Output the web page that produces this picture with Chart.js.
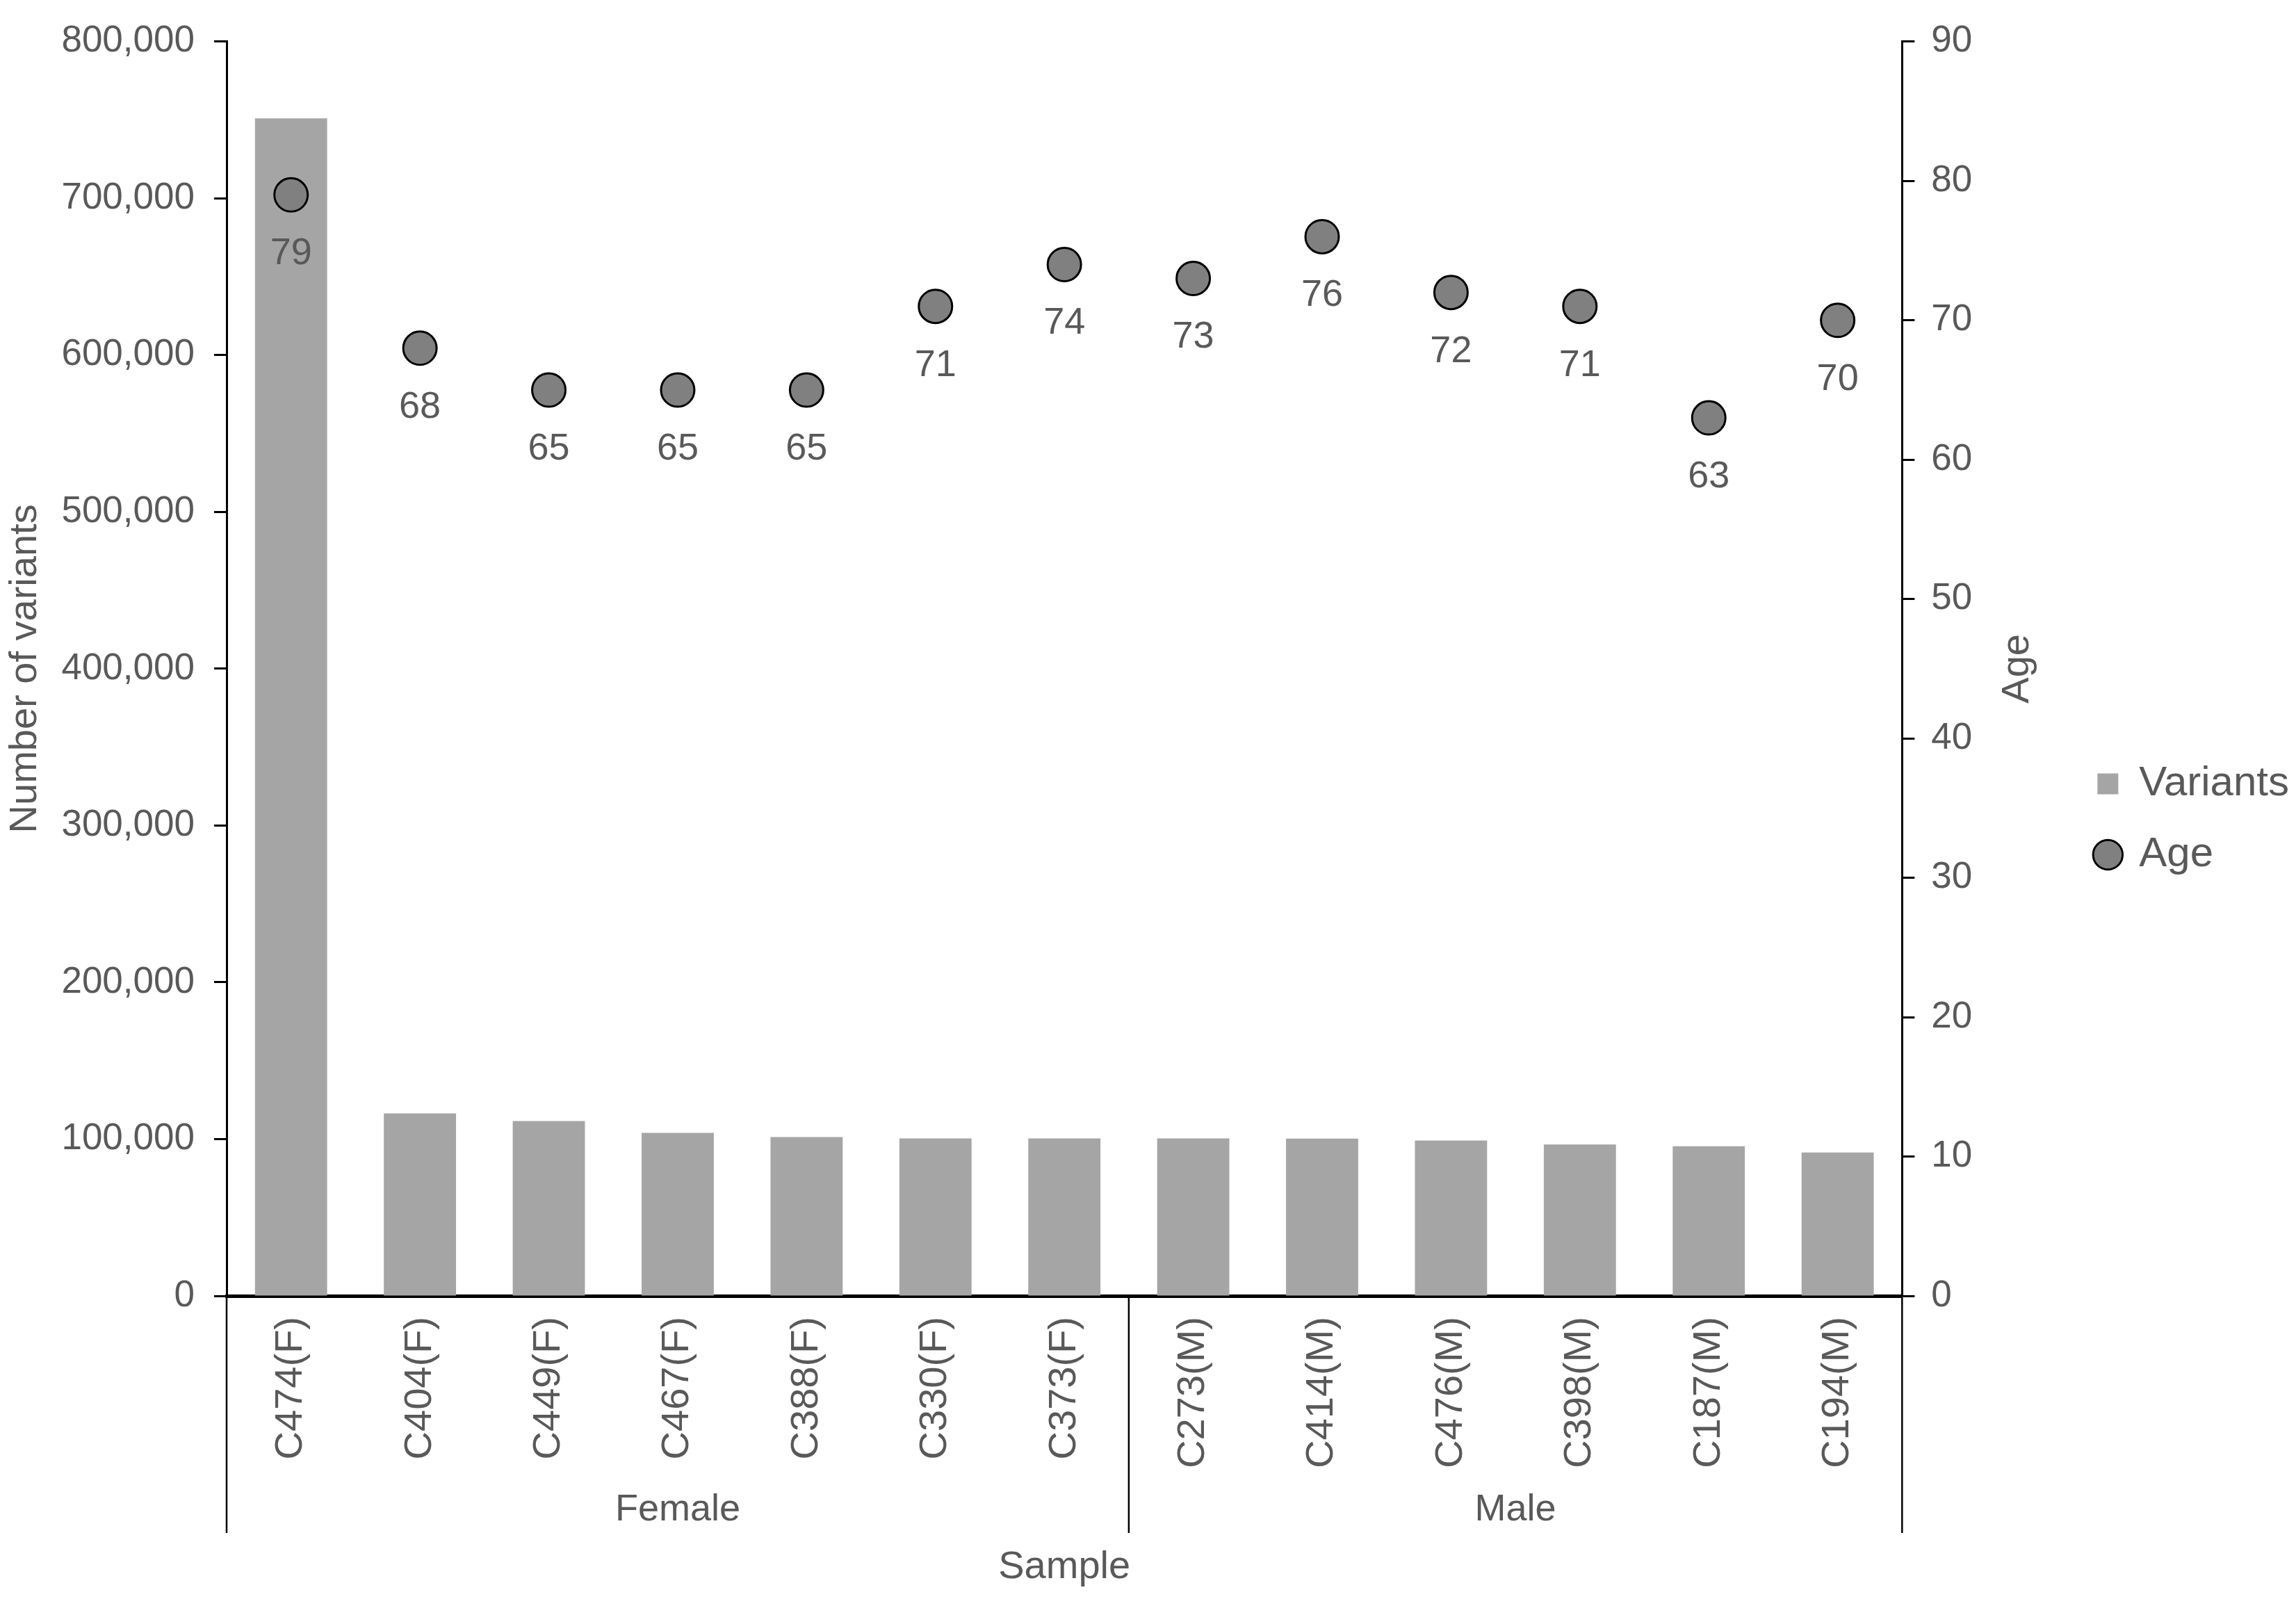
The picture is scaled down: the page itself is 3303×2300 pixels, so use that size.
<!DOCTYPE html>
<html>
<head>
<meta charset="utf-8">
<script src="https://cdn.jsdelivr.net/npm/chart.js@4.4.1/dist/chart.umd.min.js"></script>
<style>
  html, body { margin: 0; padding: 0; background: #fff; }
  canvas { display: block; }
</style>
</head>
<body>
<canvas id="variantsChart" width="3303" height="2300"></canvas>
<script>
// values
const samples = ['C474(F)', 'C404(F)', 'C449(F)', 'C467(F)', 'C388(F)', 'C330(F)', 'C373(F)',
                 'C273(M)', 'C414(M)', 'C476(M)', 'C398(M)', 'C187(M)', 'C194(M)'];
const variants = [751000, 116400, 111500, 104000, 101300, 100400, 100400, 100400, 100300, 99100, 96500, 95400, 91400];
const ages = [79, 68, 65, 65, 65, 71, 74, 73, 76, 72, 71, 63, 70];
const groups = ['Female', 'Male'];
const groupSizes = [7, 6];
const variantTicks = [0, 800000, 100000];   // min, max, step
const ageTicks = [0, 90, 10];

const FONT = '"Liberation Sans", Arial, sans-serif';
const TEXT = '#595959';
Chart.defaults.font.family = FONT;
Chart.defaults.color = TEXT;

// point labels under each age marker
const ageLabels = {
  id: 'ageLabels',
  afterDatasetsDraw(chart) {
    const ctx = chart.ctx;
    const meta = chart.getDatasetMeta(1);
    ctx.save();
    ctx.font = '54px ' + FONT;
    ctx.fillStyle = TEXT;
    ctx.textAlign = 'center';
    ctx.textBaseline = 'middle';
    meta.data.forEach((pt, i) => ctx.fillText(ages[i], pt.x, pt.y + 85));
    ctx.restore();
  }
};

// Female / Male group brackets under the x axis + rotated right title
const groupAxis = {
  id: 'groupAxis',
  afterDraw(chart) {
    const {ctx, scales: {x, y1}} = chart;
    const half = (x.getPixelForValue(1) - x.getPixelForValue(0)) / 2;
    const top = x.top;
    const lineBottom = x.bottom - 95;
    ctx.save();
    ctx.strokeStyle = '#000';
    ctx.lineWidth = 2.5;
    ctx.font = '54px ' + FONT;
    ctx.fillStyle = TEXT;
    ctx.textAlign = 'center';
    ctx.textBaseline = 'middle';
    let start = 0;
    let left = x.getPixelForValue(0) - half;
    ctx.beginPath(); ctx.moveTo(left, top); ctx.lineTo(left, lineBottom); ctx.stroke();
    groups.forEach((g, k) => {
      const end = start + groupSizes[k];
      const right = x.getPixelForValue(end - 1) + half;
      ctx.beginPath(); ctx.moveTo(right, top); ctx.lineTo(right, lineBottom); ctx.stroke();
      ctx.fillText(g, (left + right) / 2, x.bottom - 128);
      left = right;
      start = end;
    });

    // right axis title reads bottom-to-top
    ctx.font = '56px ' + FONT;
    ctx.translate(y1.left + 166, (y1.top + y1.bottom) / 2);
    ctx.rotate(-Math.PI / 2);
    ctx.fillText('Age', 0, 0);
    ctx.restore();
  }
};

const data = {
  labels: samples,
  datasets: [{
    type: 'bar',
    label: 'Variants',
    data: variants,
    yAxisID: 'y',
    backgroundColor: '#a5a5a5',
    borderWidth: 0,
    barPercentage: 0.56,
    categoryPercentage: 1,
    pointStyle: 'rect'
  }, {
    type: 'line',
    label: 'Age',
    data: ages,
    yAxisID: 'y1',
    showLine: false,
    order: -1,
    pointStyle: 'circle',
    pointRadius: 24,
    pointBorderWidth: 3,
    pointBackgroundColor: '#808080',
    pointBorderColor: '#000',
    backgroundColor: '#808080',
    borderColor: '#000',
    borderWidth: 3
  }]
};

const options = {
  responsive: false,
  animation: false,
  devicePixelRatio: 1,
  layout: { padding: { top: 57, left: 0, right: 0, bottom: 0 } },
  plugins: {
    tooltip: { enabled: false },
    legend: {
      position: 'right',
      labels: {
        usePointStyle: true,
        boxWidth: 30,
        boxHeight: 30,
        padding: 42,
        color: TEXT,
        font: { size: 60 },
        sort: (a, b) => a.datasetIndex - b.datasetIndex
      }
    }
  },
  scales: {
    x: {
      grid: { display: false, drawTicks: false },
      border: { display: true, color: '#000', width: 5 },
      ticks: { minRotation: 90, maxRotation: 90, autoSkip: false, padding: 30, font: { size: 56 }, color: TEXT },
      title: { display: true, text: 'Sample', font: { size: 56 }, color: TEXT, padding: { top: 0, bottom: 12 } },
      afterFit: s => { s.height = 436; }
    },
    y: {
      position: 'left',
      min: variantTicks[0],
      max: variantTicks[1],
      grid: { drawOnChartArea: false, drawTicks: true, tickLength: 18, tickColor: '#000', tickWidth: 3 },
      border: { display: true, color: '#000', width: 3 },
      ticks: {
        stepSize: variantTicks[2],
        padding: 28,
        font: { size: 53 },
        color: TEXT,
        callback: v => v.toLocaleString('en-US')
      },
      title: { display: true, text: 'Number of variants', font: { size: 56 }, color: TEXT, padding: { top: 3, bottom: 0 } },
      afterFit: s => { s.width = 326; }
    },
    y1: {
      position: 'right',
      min: ageTicks[0],
      max: ageTicks[1],
      grid: { drawOnChartArea: false, drawTicks: true, tickLength: 18, tickColor: '#000', tickWidth: 3 },
      border: { display: true, color: '#000', width: 3 },
      ticks: { stepSize: ageTicks[2], padding: 24, font: { size: 53 }, color: TEXT },
      afterFit: s => { s.width = 239; }
    }
  }
};

new Chart(document.getElementById('variantsChart'), {
  data,
  options,
  plugins: [ageLabels, groupAxis]
});
</script>
</body>
</html>
